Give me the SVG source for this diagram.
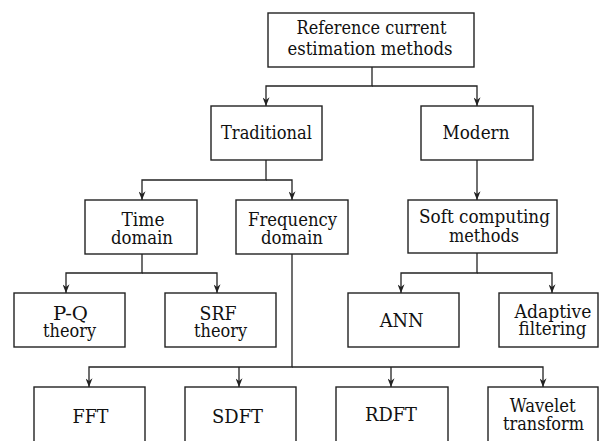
<svg xmlns="http://www.w3.org/2000/svg" width="599" height="441" viewBox="0 0 599 441">
<style>
.box{fill:#fff;stroke:#222;stroke-width:1.4}
.lbl{font-family:'DejaVu Serif',serif;font-size:19px;fill:#111;text-anchor:middle}
.con{fill:none;stroke:#222;stroke-width:1.3}
</style>
<defs>
<marker id="arr" viewBox="0 0 10 8" refX="10" refY="4" markerWidth="9" markerHeight="7" markerUnits="userSpaceOnUse" orient="auto">
<path d="M0,0 L10,4 L0,8 L3,4 z" fill="#222"/>
</marker>
</defs>
<rect x="0" y="0" width="599" height="441" fill="#fff"/>
<g id="connectors">
<path class="con" d="M372,67 V86 H266 V106" marker-end="url(#arr)"/>
<path class="con" d="M372,86 H477 V106" marker-end="url(#arr)"/>
<path class="con" d="M266,160 V180 H142 V200" marker-end="url(#arr)"/>
<path class="con" d="M266,180 H292 V200" marker-end="url(#arr)"/>
<path class="con" d="M477,160 V200" marker-end="url(#arr)"/>
<path class="con" d="M142,254 V273 H66 V293" marker-end="url(#arr)"/>
<path class="con" d="M142,273 H217 V293" marker-end="url(#arr)"/>
<path class="con" d="M477,253 V273 H401 V293" marker-end="url(#arr)"/>
<path class="con" d="M477,273 H552 V293" marker-end="url(#arr)"/>
<path class="con" d="M292,254 V367 H89 V387" marker-end="url(#arr)"/>
<path class="con" d="M292,367 H543 V387" marker-end="url(#arr)"/>
<path class="con" d="M239,367 V387" marker-end="url(#arr)"/>
<path class="con" d="M391,367 V387" marker-end="url(#arr)"/>
</g>
<g id="root"><rect class="box" x="268" y="13" width="206" height="54"/><text class="lbl" x="371.5" y="34" textLength="150" lengthAdjust="spacingAndGlyphs">Reference current</text><text class="lbl" x="370" y="55" textLength="165" lengthAdjust="spacingAndGlyphs">estimation methods</text></g>
<g id="traditional"><rect class="box" x="211" y="106" width="111" height="54"/><text class="lbl" x="266.5" y="139" textLength="91" lengthAdjust="spacingAndGlyphs">Traditional</text></g>
<g id="modern"><rect class="box" x="421" y="106" width="112" height="54"/><text class="lbl" x="476" y="139" textLength="67" lengthAdjust="spacingAndGlyphs">Modern</text></g>
<g id="time"><rect class="box" x="85" y="200" width="112" height="54"/><text class="lbl" x="143" y="225.5" textLength="43" lengthAdjust="spacingAndGlyphs">Time</text><text class="lbl" x="142" y="243.5" textLength="62" lengthAdjust="spacingAndGlyphs">domain</text></g>
<g id="frequency"><rect class="box" x="236" y="200" width="112" height="54"/><text class="lbl" x="292.5" y="225.5" textLength="89" lengthAdjust="spacingAndGlyphs">Frequency</text><text class="lbl" x="292" y="243.5" textLength="62" lengthAdjust="spacingAndGlyphs">domain</text></g>
<g id="soft"><rect class="box" x="408" y="200" width="149" height="53"/><text class="lbl" x="484.5" y="223" textLength="131" lengthAdjust="spacingAndGlyphs">Soft computing</text><text class="lbl" x="484" y="242" textLength="70" lengthAdjust="spacingAndGlyphs">methods</text></g>
<g id="pq"><rect class="box" x="14" y="293" width="111" height="54"/><text class="lbl" x="70.5" y="320" textLength="35" lengthAdjust="spacingAndGlyphs">P-Q</text><text class="lbl" x="69.5" y="337" textLength="53" lengthAdjust="spacingAndGlyphs">theory</text></g>
<g id="srf"><rect class="box" x="165" y="293" width="111" height="54"/><text class="lbl" x="218" y="320" textLength="37" lengthAdjust="spacingAndGlyphs">SRF</text><text class="lbl" x="220.5" y="337" textLength="53" lengthAdjust="spacingAndGlyphs">theory</text></g>
<g id="ann"><rect class="box" x="348" y="293" width="111" height="54"/><text class="lbl" x="401.7" y="327" textLength="44" lengthAdjust="spacingAndGlyphs">ANN</text></g>
<g id="adaptive"><rect class="box" x="499" y="293" width="99" height="54"/><text class="lbl" x="553" y="318" textLength="77" lengthAdjust="spacingAndGlyphs">Adaptive</text><text class="lbl" x="552.5" y="335" textLength="68" lengthAdjust="spacingAndGlyphs">filtering</text></g>
<g id="fft"><rect class="box" x="34" y="387" width="111" height="60"/><text class="lbl" x="90.5" y="422.7" textLength="36" lengthAdjust="spacingAndGlyphs">FFT</text></g>
<g id="sdft"><rect class="box" x="185" y="387" width="111" height="60"/><text class="lbl" x="237.5" y="422.7" textLength="51" lengthAdjust="spacingAndGlyphs">SDFT</text></g>
<g id="rdft"><rect class="box" x="336" y="387" width="112" height="60"/><text class="lbl" x="391" y="421" textLength="52" lengthAdjust="spacingAndGlyphs">RDFT</text></g>
<g id="wavelet"><rect class="box" x="488" y="387" width="110" height="60"/><text class="lbl" x="542.7" y="412.2" textLength="66" lengthAdjust="spacingAndGlyphs">Wavelet</text><text class="lbl" x="543.5" y="429.5" textLength="81" lengthAdjust="spacingAndGlyphs">transform</text></g>
</svg>
